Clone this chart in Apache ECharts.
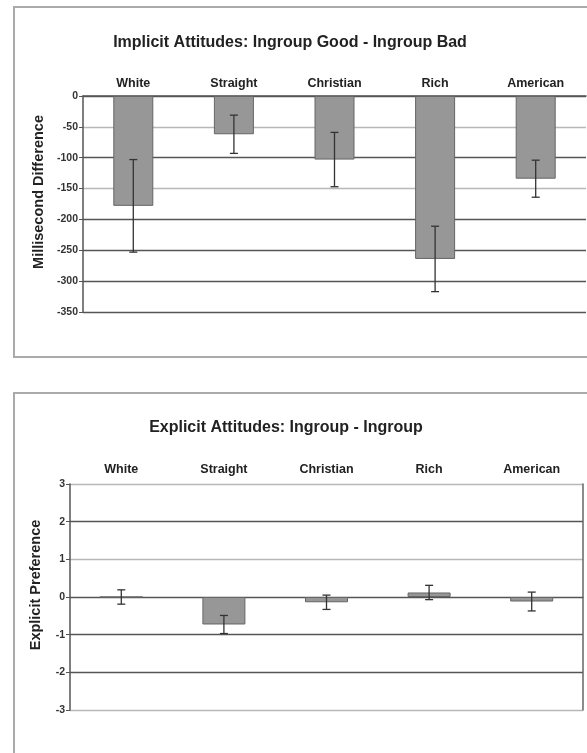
<!DOCTYPE html>
<html><head><meta charset="utf-8">
<script src="https://cdn.jsdelivr.net/npm/echarts@6/dist/echarts.min.js"></script>
<style>html,body{margin:0;padding:0;background:#fff}#c{width:587px;height:753px}</style>
</head><body><div id="c"></div>
<script>
const categories = ['White','Straight','Christian','Rich','American'];
const implicitValues = [-178, -62, -103, -264, -134];
const implicitErr = [75, 31, 44, 53, 30];
const explicitValues = [0.0, -0.73, -0.14, 0.12, -0.12];
const explicitErr = [0.19, 0.24, 0.19, 0.19, 0.25];
const implicitTicks = {min: -350, max: 0, interval: 50};
const explicitTicks = {min: -3, max: 3, interval: 1};

const font = 'Liberation Sans, Arial, sans-serif';
const chart = echarts.init(document.getElementById('c'), null, {renderer: 'canvas'});

function errData(vals, errs) { return vals.map((v, i) => [i, v - errs[i], v + errs[i]]); }
function errRender(params, api) {
  const i = api.value(0);
  const lo = api.coord([i, api.value(1)]);
  const hi = api.coord([i, api.value(2)]);
  const w = 4;
  const st = {stroke: '#333', lineWidth: 1.3};
  return {type: 'group', children: [
    {type: 'line', shape: {x1: lo[0], y1: lo[1], x2: hi[0], y2: hi[1]}, style: st},
    {type: 'line', shape: {x1: lo[0]-w, y1: lo[1], x2: lo[0]+w, y2: lo[1]}, style: st},
    {type: 'line', shape: {x1: hi[0]-w, y1: hi[1], x2: hi[0]+w, y2: hi[1]}, style: st}
  ]};
}
const dark = '#555', light = '#b8b8b8';
const catLabel = {fontFamily: font, fontSize: 12.5, fontWeight: 'bold', color: '#222'};
const tickLabel = {margin: 5, fontFamily: font, fontSize: 10.5, fontWeight: 'bold', color: '#333'};
const nameStyle = {fontFamily: font, fontSize: 14.5, fontWeight: 'bold', color: '#222', padding: [0, 0, 0, 24]};

chart.setOption({
  animation: false,
  backgroundColor: '#fff',
  title: [
    {text: 'Implicit Attitudes: Ingroup Good - Ingroup Bad', left: 285, top: 30, textAlign: 'center',
     textStyle: {fontFamily: font, fontSize: 16, fontWeight: 'bold', color: '#222'}},
    {text: 'Explicit Attitudes: Ingroup - Ingroup', left: 281, top: 415, textAlign: 'center',
     textStyle: {fontFamily: font, fontSize: 16, fontWeight: 'bold', color: '#222'}}
  ],
  graphic: [
    {type: 'rect', shape: {x: 14, y: 7, width: 600, height: 350}, style: {fill: 'none', stroke: '#aaa', lineWidth: 2}, silent: true},
    {type: 'rect', shape: {x: 14, y: 393, width: 600, height: 400}, style: {fill: 'none', stroke: '#aaa', lineWidth: 2}, silent: true}
  ],
  grid: [
    {left: 83, top: 96, width: 503, height: 216},
    {left: 70, top: 484, width: 513, height: 226}
  ],
  xAxis: [
    {type: 'category', gridIndex: 0, data: categories, position: 'top',
     axisLine: {onZero: false, lineStyle: {color: '#555', width: 1.5}},
     axisTick: {inside: true, length: 4, lineStyle: {color: '#555'}},
     axisLabel: Object.assign({margin: 6}, catLabel)},
    {type: 'category', gridIndex: 1, data: categories, position: 'top',
     axisLine: {show: false, onZero: false}, axisTick: {show: false},
     axisLabel: Object.assign({margin: 8}, catLabel)},
    {type: 'category', gridIndex: 1, data: categories,
     axisLine: {onZero: true, lineStyle: {color: '#555', width: 1.2}},
     axisTick: {inside: true, length: 4, lineStyle: {color: '#555'}},
     axisLabel: {show: false}}
  ],
  yAxis: [
    {type: 'value', gridIndex: 0, min: implicitTicks.min, max: implicitTicks.max, interval: implicitTicks.interval,
     name: 'Millisecond Difference', nameLocation: 'middle', nameGap: 37,
     nameTextStyle: nameStyle,
     axisLine: {show: true, lineStyle: {color: '#555', width: 1.5}},
     axisTick: {show: true, length: 4, lineStyle: {color: '#555'}},
     axisLabel: tickLabel,
     splitLine: {lineStyle: {color: [dark, dark, dark, dark, light, dark, light, dark], width: 1.3}}},
    {type: 'value', gridIndex: 1, min: explicitTicks.min, max: explicitTicks.max, interval: explicitTicks.interval,
     name: 'Explicit Preference', nameLocation: 'middle', nameGap: 27,
     nameTextStyle: nameStyle,
     axisLine: {show: true, lineStyle: {color: '#555', width: 1.5}},
     axisTick: {show: true, length: 4, lineStyle: {color: '#555'}},
     axisLabel: tickLabel,
     splitLine: {lineStyle: {color: [light, dark, dark, dark, light, dark, light], width: 1.3}}},
    {type: 'value', gridIndex: 1, position: 'right', min: explicitTicks.min, max: explicitTicks.max, interval: explicitTicks.interval,
     axisLine: {show: true, lineStyle: {color: '#666', width: 1.5}},
     axisTick: {show: false}, axisLabel: {show: false}, splitLine: {show: false}}
  ],
  series: [
    {type: 'bar', xAxisIndex: 0, yAxisIndex: 0, data: implicitValues, barWidth: 40,
     itemStyle: {color: '#979797', borderColor: '#666', borderWidth: 1}},
    {type: 'custom', xAxisIndex: 0, yAxisIndex: 0, data: errData(implicitValues, implicitErr), renderItem: errRender, z: 5},
    {type: 'bar', xAxisIndex: 1, yAxisIndex: 1, data: explicitValues, barWidth: 43,
     itemStyle: {color: '#979797', borderColor: '#666', borderWidth: 1}},
    {type: 'custom', xAxisIndex: 1, yAxisIndex: 1, data: errData(explicitValues, explicitErr), renderItem: errRender, z: 5}
  ]
});
</script></body></html>
